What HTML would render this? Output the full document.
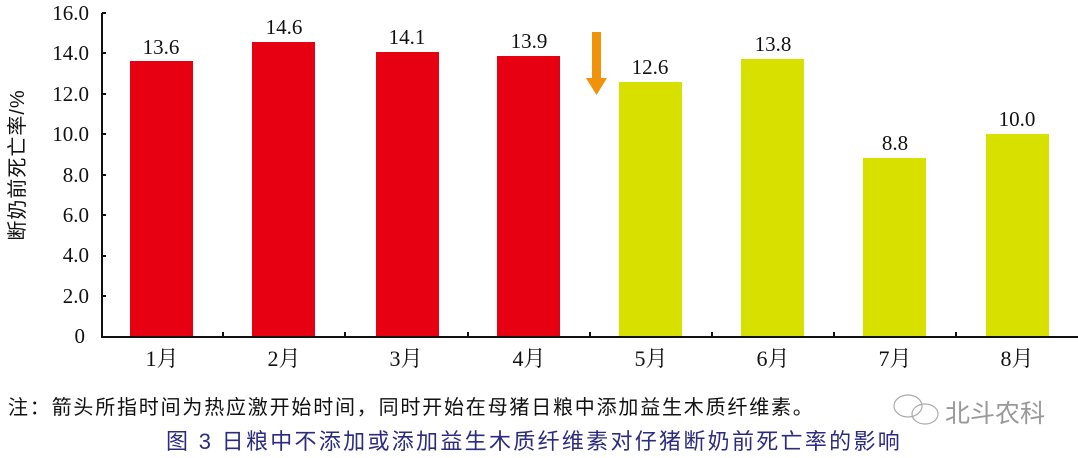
<!DOCTYPE html>
<html><head><meta charset="utf-8"><style>
body{margin:0;background:#fff;width:1078px;height:458px;overflow:hidden;position:relative}
svg{position:absolute;left:0;top:0}
</style></head><body>
<svg width="1078" height="458" xmlns="http://www.w3.org/2000/svg">
<g font-family="Liberation Serif, serif" font-size="21" fill="#111" text-anchor="end">
<text x="89" y="20">16.0</text>
<text x="89" y="60">14.0</text>
<text x="89" y="101">12.0</text>
<text x="89" y="141">10.0</text>
<text x="89" y="182">8.0</text>
<text x="89" y="222">6.0</text>
<text x="89" y="262">4.0</text>
<text x="89" y="303">2.0</text>
<text x="85" y="343">0</text>
</g>
<g stroke="#111" stroke-width="2" fill="none">
<path d="M102 13 V337 H1078"/>
<path d="M102 13h4M102 53h4M102 94h4M102 134h4M102 175h4M102 215h4M102 256h4M102 296h4"/>
<path d="M223 337v-5M345 337v-5M468 337v-5M590 337v-5M712 337v-5M834 337v-5M956 337v-5"/>
</g>
<g fill="#e60012">
<rect x="130" y="61" width="63" height="275"/>
<rect x="252" y="42" width="63" height="294"/>
<rect x="376" y="52" width="63" height="284"/>
<rect x="497" y="56" width="63" height="280"/>
</g>
<g fill="#d8e000">
<rect x="619" y="82" width="63" height="254"/>
<rect x="741" y="59" width="63" height="277"/>
<rect x="863" y="158" width="63" height="178"/>
<rect x="986" y="134" width="63" height="202"/>
</g>
<path d="M592 32h9v46h6l-10.5 17l-10.5-17h6z" fill="#f0920a"/>
<g font-family="Liberation Serif, serif" font-size="21" fill="#111" text-anchor="middle">
<text x="161" y="54">13.6</text>
<text x="284" y="34">14.6</text>
<text x="407" y="44">14.1</text>
<text x="529" y="48">13.9</text>
<text x="650" y="74">12.6</text>
<text x="773" y="51">13.8</text>
<text x="895" y="150">8.8</text>
<text x="1017" y="126">10.0</text>
</g>
<g font-family="Liberation Serif, Noto Serif CJK SC, serif" font-size="22" fill="#111" text-anchor="middle">
<text x="162" y="366">1月</text><text x="284" y="366">2月</text><text x="406" y="366">3月</text><text x="529" y="366">4月</text>
<text x="651" y="366">5月</text><text x="773" y="366">6月</text><text x="895" y="366">7月</text><text x="1017" y="366">8月</text>
</g>
<text transform="translate(24,165) rotate(-90)" text-anchor="middle" font-family="Liberation Sans, Noto Sans CJK SC, sans-serif" font-size="20" letter-spacing="1" fill="#111">断奶前死亡率/%</text>
<text x="8" y="414" font-family="Liberation Sans, Noto Sans CJK SC, sans-serif" font-size="20" letter-spacing="1.8" fill="#111">注：箭头所指时间为热应激开始时间，同时开始在母猪日粮中添加益生木质纤维素。</text>
<text x="166" y="449" font-family="Liberation Sans, Noto Sans CJK SC, sans-serif" font-size="22" letter-spacing="2.3" fill="#2b2b80">图 3 日粮中不添加或添加益生木质纤维素对仔猪断奶前死亡率的影响</text>
<g fill="none" stroke="#aaa" stroke-width="1.2"><ellipse cx="908" cy="406" rx="14" ry="11"/><ellipse cx="925" cy="414" rx="13" ry="10"/></g>
<text x="945" y="422" font-family="Liberation Sans, Noto Sans CJK SC, sans-serif" font-size="25" fill="#999">北斗农科</text>
</svg>
</body></html>
